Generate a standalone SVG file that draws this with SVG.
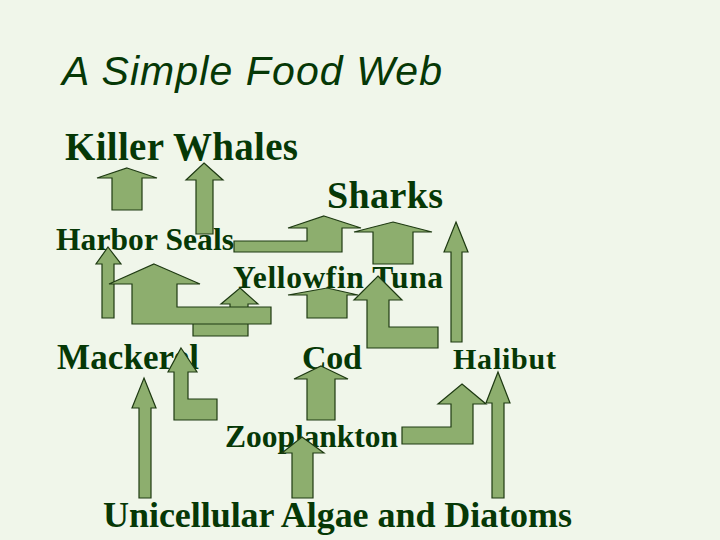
<svg xmlns="http://www.w3.org/2000/svg" width="720" height="540" viewBox="0 0 720 540">
<style>
.bg{fill:#F0F6EA}
.t{font-family:"Liberation Serif","Times New Roman",serif;font-weight:bold;fill:#063806}
.title{font-family:"Liberation Sans",Arial,sans-serif;font-style:italic;fill:#063806}
.a{fill:#8DAE6E;stroke:#1E3A12;stroke-width:1.2;stroke-linejoin:miter}
</style>
<rect class="bg" x="0" y="0" width="720" height="540"/>
<g id="title"><text class="title" x="62" y="85" font-size="41" textLength="380">A Simple Food Web</text></g>
<g id="killer-whales"><text class="t" x="65" y="160" font-size="39" textLength="233">Killer Whales</text></g>
<g id="sharks"><text class="t" x="327" y="208" font-size="38" textLength="116">Sharks</text></g>
<g id="harbor-seals"><text class="t" x="56" y="250" font-size="31.5" textLength="178">Harbor Seals</text></g>
<g id="yellowfin-tuna"><text class="t" x="233" y="288" font-size="31.5" textLength="210">Yellowfin Tuna</text></g>
<g id="mackerel"><text class="t" x="57" y="369" font-size="35" textLength="142">Mackerel</text></g>
<g id="cod"><text class="t" x="302" y="369" font-size="34" textLength="60">Cod</text></g>
<g id="halibut"><text class="t" x="453" y="369" font-size="30" textLength="103">Halibut</text></g>
<g id="zooplankton"><text class="t" x="225" y="447" font-size="31.5" textLength="173">Zooplankton</text></g>
<g id="algae"><text class="t" x="103" y="527" font-size="36" textLength="469">Unicellular Algae and Diatoms</text></g>
<g id="connectors">
<polygon class="a" points="127,168 157,178 142,178 142,210 112,210 112,178 97,178"/>
<polygon class="a" points="204,163 223,180 213,180 213,234 196,234 196,180 186,180"/>
<polygon class="a" points="108,247 121,264 114,264 114,318 102,318 102,264 96,264"/>
<polygon class="a" points="240,288 258,304 248,304 248,336 193,336 193,317 230,317 230,304 221,304"/>
<polygon class="a" points="154,264 200,284 177,284 177,307 271,307 271,324 132,324 132,284 109,284"/>
<polygon class="a" points="324,216 361,228 342,228 342,252 234,252 234,241 307,241 307,228 288,228"/>
<polygon class="a" points="393,222 432,232 413,232 413,264 373,264 373,232 354,232"/>
<polygon class="a" points="456,222 468,252 462,252 462,342 451,342 451,252 444,252"/>
<polygon class="a" points="327,288 358,295 347,295 347,318 307,318 307,295 288,295"/>
<polygon class="a" points="378,276 402,300 389,300 389,327 438,327 438,348 367,348 367,300 354,300"/>
<polygon class="a" points="181,348 197,372 188,372 188,399 217,399 217,420 174,420 174,372 168,372"/>
<polygon class="a" points="144,378 156,408 151,408 151,498 139,498 139,408 132,408"/>
<polygon class="a" points="321,366 348,379 335,379 335,420 307,420 307,379 294,379"/>
<polygon class="a" points="302,437 324,453 313,453 313,498 292,498 292,453 282,453"/>
<polygon class="a" points="462,384 486,404 473,404 473,444 402,444 402,427 451,427 451,404 438,404"/>
<polygon class="a" points="498,372 510,403 504,403 504,498 492,498 492,403 486,403"/>
</g>
</svg>
